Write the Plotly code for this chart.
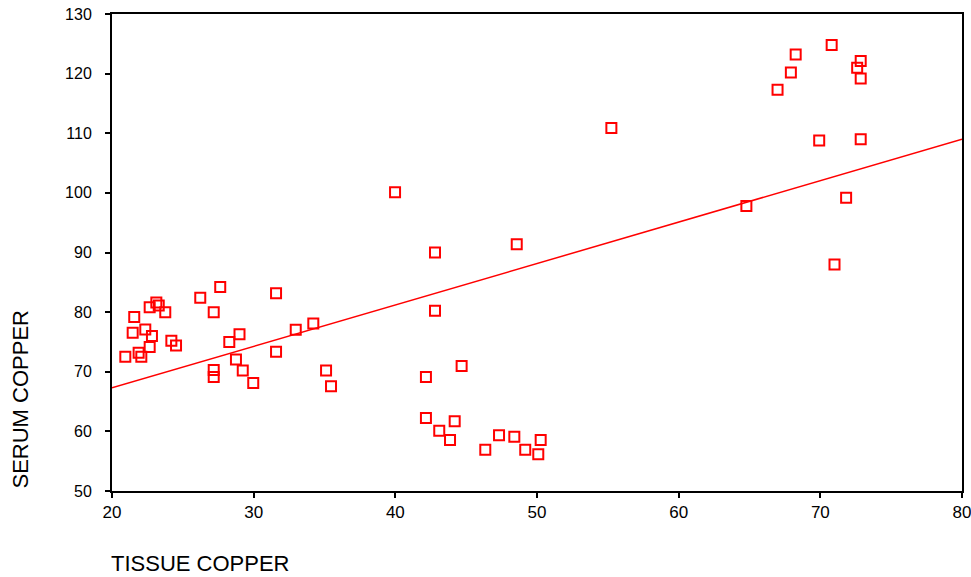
import plotly.graph_objects as go

tissue_copper = [
    20.94, 21.57, 21.46, 21.88, 22.07, 22.35, 22.66, 22.66, 22.82, 23.13,
    23.30, 23.76, 24.19, 24.52, 26.23, 27.18, 27.64, 28.28, 28.75, 29.0,
    27.18, 27.18, 31.58, 32.97, 34.21, 31.58, 29.23, 29.97, 35.11, 35.46,
    39.98, 42.80, 48.57, 42.80, 44.68, 42.16, 42.16, 43.10, 44.19, 43.86,
    46.35, 47.32, 48.40, 49.17, 50.26, 50.09, 55.25,
    64.78, 66.98, 67.92, 68.26, 70.8, 72.85, 72.6, 72.85, 69.92, 72.85,
    71.82, 71.0,
]
serum_copper = [
    72.5, 79.2, 76.55, 73.2, 72.5, 77.1, 80.8, 74.15, 76.0, 81.6,
    81.1, 80.0, 75.2, 74.4, 82.4, 80.0, 84.2, 75.0, 72.05, 76.3,
    70.3, 69.1, 83.15, 77.05, 78.1, 73.35, 70.2, 68.1, 70.2, 67.55,
    100.1, 90.0, 91.4, 80.25, 70.95, 69.1, 62.25, 60.1, 61.7, 58.55,
    56.9, 59.35, 59.1, 56.9, 58.55, 56.15, 110.9,
    97.8, 117.3, 120.2, 123.2, 124.8, 122.1, 121.0, 119.2, 108.8, 109.0,
    99.2, 88.0,
]

fit_x = [20, 80]
fit_y = [67.3, 109.0]

x_ticks = [20, 30, 40, 50, 60, 70, 80]
y_ticks = [50, 60, 70, 80, 90, 100, 110, 120, 130]

fig = go.Figure()
fig.add_trace(go.Scatter(
    x=fit_x, y=fit_y, mode="lines",
    line=dict(color="#ff0000", width=1.5),
    hoverinfo="skip", showlegend=False,
))
fig.add_trace(go.Scatter(
    x=tissue_copper, y=serum_copper, mode="markers",
    marker=dict(symbol="square-open", size=10, color="#ff0000",
                line=dict(color="#ff0000", width=2)),
    showlegend=False,
))

fig.update_layout(
    width=971, height=577,
    margin=dict(l=112, r=9, t=14, b=86, autoexpand=False),
    paper_bgcolor="white", plot_bgcolor="white",
    font=dict(family="Liberation Sans, Arial, sans-serif", color="black", size=14),
    xaxis=dict(
        range=[20, 80], tickvals=x_ticks, showgrid=False, zeroline=False,
        showline=True, linecolor="black", linewidth=2, mirror=True,
        ticks="outside", ticklen=5, tickwidth=1.5, tickcolor="black",
        automargin=False, ticklabeloverflow="allow",
        tickfont=dict(family="Liberation Sans Narrow, Liberation Sans, Arial", size=17),
    ),
    yaxis=dict(
        range=[50, 130], tickvals=y_ticks, showgrid=False, zeroline=False,
        showline=True, linecolor="black", linewidth=2, mirror=True,
        ticks="outside", ticklen=5, tickwidth=1.5, tickcolor="black",
        ticklabelstandoff=10, automargin=False, ticklabeloverflow="allow",
        tickfont=dict(family="Liberation Sans, Arial", size=16),
    ),
    annotations=[
        dict(text="TISSUE COPPER", xref="paper", yref="paper", x=0, y=0,
             xanchor="left", yanchor="top", yshift=-58, xshift=-3, showarrow=False,
             font=dict(size=22, family="Liberation Sans, Arial")),
        dict(text="SERUM COPPER", xref="paper", yref="paper", x=0, y=0,
             xanchor="right", yanchor="bottom", xshift=-78, showarrow=False,
             textangle=-90,
             font=dict(size=22, family="Liberation Sans, Arial")),
    ],
)

fig.write_html("out.html", config={"displayModeBar": False},
               post_script="document.body.style.margin='0';")
